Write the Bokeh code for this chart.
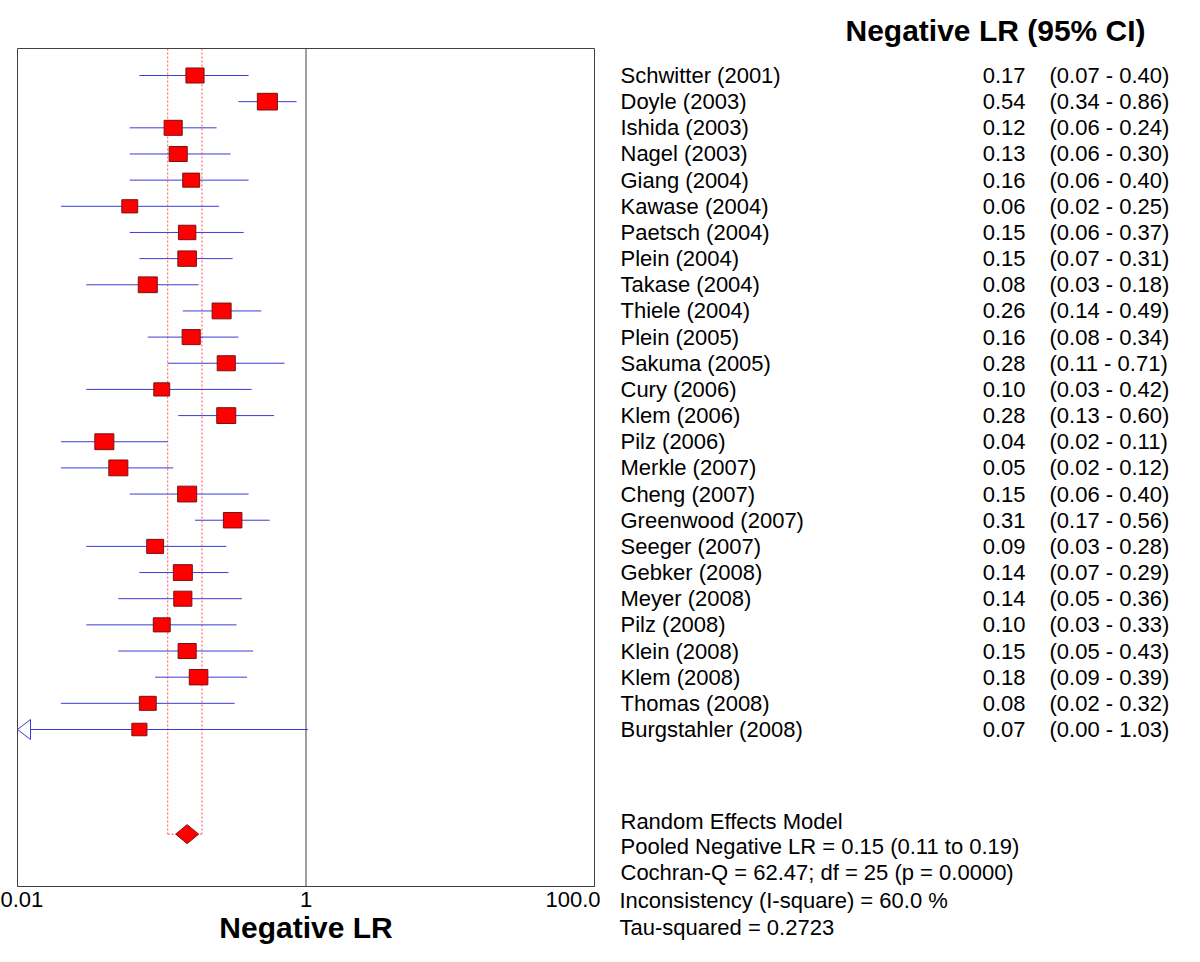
import numpy as np
from bokeh.plotting import figure
from bokeh.models import Range1d, FixedTicker, Span, BasicTickFormatter, Title
from bokeh.layouts import row
from bokeh.embed import file_html
from bokeh.resources import INLINE
from bokeh.core.properties import value

# ---------------- data ----------------
studies = ["Schwitter (2001)", "Doyle (2003)", "Ishida (2003)", "Nagel (2003)",
           "Giang (2004)", "Kawase (2004)", "Paetsch (2004)", "Plein (2004)",
           "Takase (2004)", "Thiele (2004)", "Plein (2005)", "Sakuma (2005)",
           "Cury (2006)", "Klem (2006)", "Pilz (2006)", "Merkle (2007)",
           "Cheng (2007)", "Greenwood (2007)", "Seeger (2007)", "Gebker (2008)",
           "Meyer (2008)", "Pilz (2008)", "Klein (2008)", "Klem (2008)",
           "Thomas (2008)", "Burgstahler (2008)"]
lr = [0.17, 0.54, 0.12, 0.13, 0.16, 0.06, 0.15, 0.15, 0.08, 0.26, 0.16, 0.28, 0.10,
      0.28, 0.04, 0.05, 0.15, 0.31, 0.09, 0.14, 0.14, 0.10, 0.15, 0.18, 0.08, 0.07]
lr_lo = [0.07, 0.34, 0.06, 0.06, 0.06, 0.02, 0.06, 0.07, 0.03, 0.14, 0.08, 0.11, 0.03,
         0.13, 0.02, 0.02, 0.06, 0.17, 0.03, 0.07, 0.05, 0.03, 0.05, 0.09, 0.02, 0.00]
lr_hi = [0.40, 0.86, 0.24, 0.30, 0.40, 0.25, 0.37, 0.31, 0.18, 0.49, 0.34, 0.71, 0.42,
         0.60, 0.11, 0.12, 0.40, 0.56, 0.28, 0.29, 0.36, 0.33, 0.43, 0.39, 0.32, 1.03]
weights = [3.9, 4.8, 3.9, 3.9, 3.4, 3.0, 3.6, 4.1, 4.3, 4.3, 3.9, 3.9, 3.0,
           4.3, 4.3, 4.3, 4.3, 4.1, 3.4, 4.3, 3.9, 3.4, 3.9, 4.1, 3.4, 2.7]
pooled = 0.15
pooled_lo = 0.11
pooled_hi = 0.19
summary_lines = ["Random Effects Model",
                 "Pooled Negative LR = 0.15 (0.11 to 0.19)",
                 "Cochran-Q = 62.47; df =  25 (p = 0.0000)",
                 "Inconsistency (I-square) = 60.0 %",
                 "Tau-squared = 0.2723"]
x_ticks = [0.01, 1, 100]
x_tick_labels = ["0.01", "1", "100.0"]
x_title = "Negative LR"
table_title = "Negative LR (95% CI)"

# ---------------- layout constants ----------------
FONT = "Liberation Sans"
X_MIN, X_MAX = 0.01, 100
n = len(studies)
rows = np.arange(n, dtype=float)
pooled_row = n + 3
PX_PER_ROW = 26.16
FRAME_TOP, FRAME_BOT = 48, 886
FIG_H = 954
Y_TOP = (FRAME_TOP - 75) / PX_PER_ROW
Y_BOT = (FRAME_BOT - 75) / PX_PER_ROW
BLUE = "#3c3cd8"
RED = "#ff0000"
DARKRED = "#7a1010"
FRAME = "#404040"
PX_PER_DEC = 577 / 4.0

borders = dict(min_border_top=FRAME_TOP, min_border_bottom=FIG_H - FRAME_BOT)

p = figure(width=600, height=FIG_H, x_axis_type="log",
           x_range=Range1d(X_MIN, X_MAX), y_range=Range1d(Y_BOT, Y_TOP),
           output_backend="svg", toolbar_location=None, y_axis_location=None,
           min_border_left=17, min_border_right=6, **borders)
p.grid.visible = False
p.outline_line_color = FRAME
p.outline_line_alpha = 1.0
p.background_fill_color = "white"
p.border_fill_color = "white"

ax = p.xaxis[0]
ax.ticker = FixedTicker(ticks=x_ticks, minor_ticks=[])
ax.formatter = BasicTickFormatter()
ax.major_label_overrides = {t: l for t, l in zip(x_ticks, x_tick_labels)}
ax.major_tick_in = 0
ax.major_tick_out = 0
ax.minor_tick_in = 0
ax.minor_tick_out = 0
ax.axis_line_color = FRAME
ax.major_label_text_font = FONT
ax.major_label_text_font_size = "22px"
ax.major_label_text_color = "black"
ax.major_label_standoff = 5
ax.axis_label = x_title
ax.axis_label_text_font = FONT
ax.axis_label_text_font_style = "bold"
ax.axis_label_text_font_size = "30px"
ax.axis_label_text_color = "black"
ax.axis_label_standoff = 1

# line of no effect
p.add_layout(Span(location=1, dimension="height", line_color=FRAME, line_width=1))

# pooled CI dashed lines
p.segment(x0=[pooled_lo, pooled_hi], y0=[Y_TOP, Y_TOP], x1=[pooled_lo, pooled_hi],
          y1=[pooled_row, pooled_row], line_color="#ff5050", line_width=1, line_dash="2 2")
p.segment(x0=[pooled_lo], y0=[pooled_row], x1=[pooled_hi], y1=[pooled_row],
          line_color="#ff5050", line_width=1, line_dash="2 2")

# CI lines
lo_arr = np.array(lr_lo)
hi_arr = np.array(lr_hi)
lo_clip = np.maximum(lo_arr, X_MIN)
p.segment(x0=lo_clip, y0=rows, x1=np.minimum(hi_arr, X_MAX), y1=rows,
          line_color=BLUE, line_width=1)

# arrows for truncated CIs
trunc = np.where(lo_arr < X_MIN)[0]
arrow_len = 10 ** (13 / PX_PER_DEC)
arrow_half = 10 / PX_PER_ROW
p.patches(xs=[[X_MIN, X_MIN * arrow_len, X_MIN * arrow_len] for _ in trunc],
          ys=[[rows[i], rows[i] - arrow_half, rows[i] + arrow_half] for i in trunc],
          fill_color="white", line_color=BLUE, line_width=1)

# study squares
side = 9.17 * np.sqrt(np.array(weights))
p.rect(x=lr, y=rows, width=side, height=side * 0.83, width_units="screen",
       height_units="screen", fill_color=RED, line_color=DARKRED, line_width=1)

# pooled diamond
d = 10 ** (11.5 / PX_PER_DEC)
h = 9.5 / PX_PER_ROW
p.patch(x=[pooled / d, pooled, pooled * d, pooled],
        y=[pooled_row, pooled_row - h, pooled_row, pooled_row + h],
        fill_color=RED, line_color=DARKRED, line_width=1)

# ---------------- right text panel ----------------
q = figure(width=592, height=FIG_H, x_range=Range1d(0, 592), y_range=Range1d(Y_BOT, Y_TOP),
           output_backend="svg", toolbar_location=None,
           min_border_left=0, min_border_right=0, **borders,
           x_axis_location=None, y_axis_location=None)
q.grid.visible = False
q.outline_line_color = None
q.background_fill_color = "white"
q.border_fill_color = "white"

common = dict(text_font=value(FONT), text_font_size="22px", text_color="black",
              text_baseline="middle")
q.text(x=np.full(n, 20.0), y=rows, text=studies, text_align="left", **common)
q.text(x=np.full(n, 425.0), y=rows, text=[f"{v:.2f}" for v in lr], text_align="right", **common)
q.text(x=np.full(n, 449.0), y=rows,
       text=[f"({a:.2f} - {b:.2f})" for a, b in zip(lr_lo, lr_hi)], text_align="left", **common)

# summary lines: the ones inside the frame as glyphs, the rest as titles below
n_in = 3
sum_rows = pooled_row - 0.5 + np.arange(n_in) * 0.98
q.text(x=np.full(n_in, 20.0), y=sum_rows, text=summary_lines[:n_in], text_align="left", **common)
for line in summary_lines[n_in:]:
    q.add_layout(Title(text=line, align="left", offset=19, standoff=0,
                       text_font=FONT, text_font_size="22px", text_font_style="normal",
                       text_color="black", vertical_align="middle"), "below")

# table title
q.title = Title(text=table_title, align="left", offset=245, standoff=4,
                text_font=FONT, text_font_size="30px", text_font_style="bold",
                text_color="black", vertical_align="bottom")

layout = row(p, q)
open("out.html", "w").write(file_html(layout, INLINE))
